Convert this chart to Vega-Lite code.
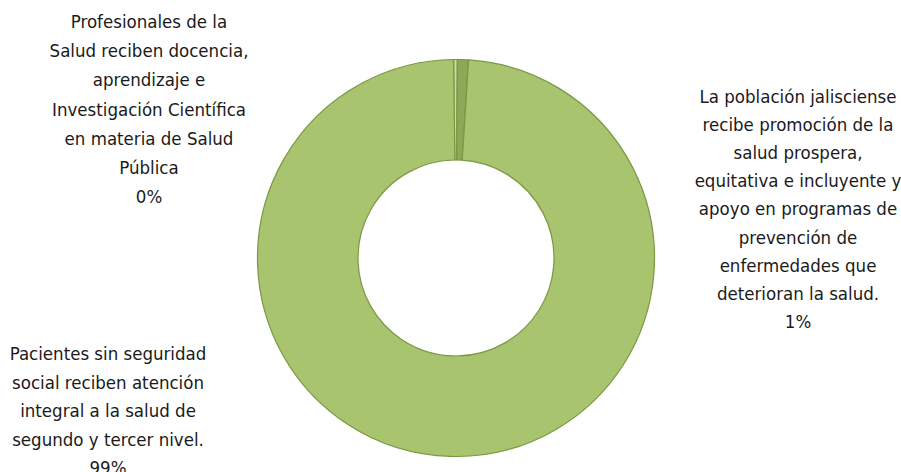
{
  "$schema": "https://vega.github.io/schema/vega-lite/v6.json",
  "width": 890,
  "height": 428,
  "autosize": {"type": "none"},
  "padding": {"left": 11, "top": 44, "right": 0, "bottom": 0},
  "background": "white",
  "config": {"view": {"stroke": null}},
  "data": {
    "values": [
      {"categoria": "Profesionales de la Salud reciben docencia, aprendizaje e Investigación Científica en materia de Salud Pública", "valor": 0.3, "orden": 1, "etiqueta": ["Profesionales de la", "Salud reciben docencia,", "aprendizaje e", "Investigación Científica", "en materia de Salud", "Pública", "0%"]},
      {"categoria": "La población jalisciense recibe promoción de la salud prospera, equitativa e incluyente y apoyo en programas de prevención de enfermedades que deterioran la salud.", "valor": 0.9, "orden": 2, "etiqueta": ["La población jalisciense", "recibe promoción de la", "salud prospera,", "equitativa e incluyente y", "apoyo en programas de", "prevención de", "enfermedades que", "deterioran la salud.", "1%"]},
      {"categoria": "Pacientes sin seguridad social reciben atención integral a la salud de segundo y tercer nivel.", "valor": 98.8, "orden": 3, "etiqueta": ["Pacientes sin seguridad", "social reciben atención", "integral a la salud de", "segundo y tercer nivel.", "99%"]}
    ]
  },
  "layer": [
    {
      "mark": {"type": "arc", "outerRadius": 198.5, "innerRadius": 98, "stroke": "#7A9742", "strokeWidth": 1.2},
      "encoding": {
        "theta": {"field": "valor", "type": "quantitative", "stack": true, "scale": {"range": [-0.012, 6.2712]}},
        "order": {"field": "orden", "type": "quantitative"},
        "color": {
          "field": "orden", "type": "nominal", "legend": null,
          "scale": {"domain": [1, 2, 3], "range": ["#CBDBAA", "#8DA856", "#A9C46E"]}
        }
      }
    },
    {
      "transform": [{"filter": "datum.orden == 1"}],
      "mark": {"type": "text", "radius": 0, "dx": -307, "dy": -236, "align": "center", "baseline": "middle", "font": "DejaVu Sans Condensed, sans-serif", "fontSize": 18.5, "lineHeight": 29.2, "color": "#1a1a1a"},
      "encoding": {
        "theta": {"field": "valor", "type": "quantitative"},
        "text": {"field": "etiqueta"}
      }
    },
    {
      "transform": [{"filter": "datum.orden == 2"}],
      "mark": {"type": "text", "radius": 0, "dx": 342, "dy": -161, "align": "center", "baseline": "middle", "font": "DejaVu Sans Condensed, sans-serif", "fontSize": 18.5, "lineHeight": 28.1, "color": "#1a1a1a"},
      "encoding": {
        "theta": {"field": "valor", "type": "quantitative"},
        "text": {"field": "etiqueta"}
      }
    },
    {
      "transform": [{"filter": "datum.orden == 3"}],
      "mark": {"type": "text", "radius": 0, "dx": -348, "dy": 96, "align": "center", "baseline": "middle", "font": "DejaVu Sans Condensed, sans-serif", "fontSize": 18.5, "lineHeight": 28.5, "color": "#1a1a1a"},
      "encoding": {
        "theta": {"field": "valor", "type": "quantitative"},
        "text": {"field": "etiqueta"}
      }
    }
  ]
}
